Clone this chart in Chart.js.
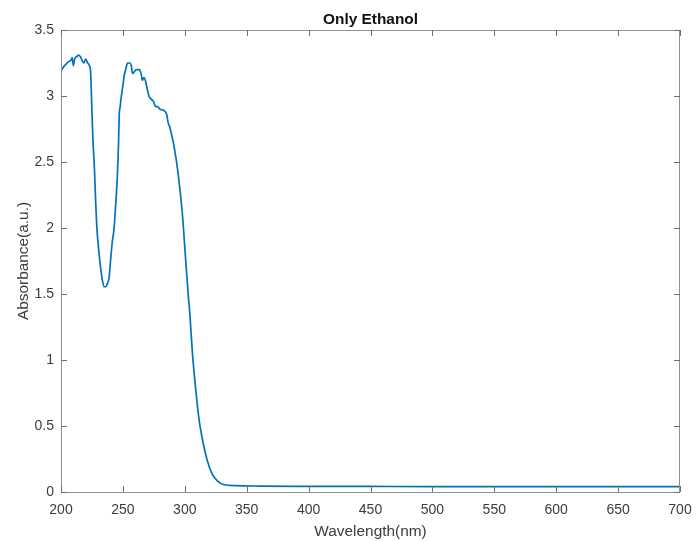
<!DOCTYPE html>
<html>
<head>
<meta charset="utf-8">
<script src="https://cdn.jsdelivr.net/npm/chart.js@4.4.1/dist/chart.umd.min.js"></script>
<style>
html,body{margin:0;padding:0;background:#fff;}
canvas{display:block;}
</style>
</head>
<body>
<canvas id="c" width="697" height="541"></canvas>
<script>
const chartTitle = "Only Ethanol";
const xTitle = "Wavelength(nm)";
const yTitle = "Absorbance(a.u.)";

const wavelengths = [200,202,204,206,208,209,210,211,213,214,215.5,217,218.5,220,221.5,223,224,224.8,225.8,227,228,229,230.7,232,233.5,235,236,237.5,238.8,240,241.5,242.8,244,245.5,246.5,247,247.8,248.5,250,251,252.5,253.8,255.5,256.8,257.8,259,261,263.3,264.9,265.7,267,268.4,269.7,271,272.4,274.6,276.5,278,280,283.2,285.4,286.5,288,289.5,291.3,294.5,298,300.7,302.9,304,306.1,308.8,311.5,314.7,318.2,322.2,326.3,331.7,341,360,400,450,500,550,600,650,700];
const absorbance = [3.19,3.22,3.24,3.26,3.27,3.29,3.23,3.28,3.30,3.31,3.30,3.27,3.25,3.28,3.25,3.23,3.17,2.94,2.67,2.45,2.20,2.00,1.81,1.70,1.60,1.555,1.555,1.58,1.62,1.75,1.90,1.99,2.15,2.39,2.65,2.85,2.92,2.98,3.08,3.15,3.21,3.25,3.25,3.23,3.17,3.18,3.20,3.20,3.16,3.12,3.14,3.11,3.05,3.00,2.98,2.96,2.92,2.92,2.90,2.89,2.86,2.80,2.76,2.70,2.62,2.42,2.11,1.76,1.48,1.36,1.06,0.78,0.55,0.376,0.237,0.136,0.085,0.055,0.048,0.045,0.043,0.042,0.041,0.041,0.040,0.040,0.040];

const xMin = 200, xMax = 700, xStep = 50;
const yMin = 0, yMax = 3.5, yStep = 0.5;

const points = wavelengths.map((w, i) => ({x: w, y: absorbance[i]}));

const boxPlugin = {
  id: 'boxTicks',
  afterDatasetsDraw(chart) {
    const {ctx, chartArea: a, scales} = chart;
    ctx.save();
    ctx.lineWidth = 1;
    ctx.strokeStyle = '#8f8f8f';
    ctx.strokeRect(Math.round(a.left) + 0.5, Math.round(a.top) + 0.5, Math.round(a.right - a.left) - 1, Math.round(a.bottom - a.top));
    ctx.strokeStyle = '#6f6f6f';
    const tl = 6;
    ctx.beginPath();
    scales.x.ticks.forEach(t => {
      const px = Math.round(scales.x.getPixelForValue(t.value)) + 0.5;
      ctx.moveTo(px, a.bottom); ctx.lineTo(px, a.bottom - tl);
      ctx.moveTo(px, a.top); ctx.lineTo(px, a.top + tl);
    });
    scales.y.ticks.forEach(t => {
      const py = Math.round(scales.y.getPixelForValue(t.value)) + 0.5;
      ctx.moveTo(a.left, py); ctx.lineTo(a.left + tl, py);
      ctx.moveTo(a.right, py); ctx.lineTo(a.right - tl, py);
    });
    ctx.stroke();
    ctx.restore();
  }
};

const fontFam = "'Liberation Sans', Arial, Helvetica, sans-serif";
const textColor = '#3c3c3c';

new Chart(document.getElementById('c'), {
  type: 'line',
  data: {
    datasets: [{
      data: points,
      borderColor: '#0072BD',
      borderWidth: 1.7,
      pointRadius: 0,
      fill: false,
      tension: 0,
      cubicInterpolationMode: 'monotone'
    }]
  },
  options: {
    responsive: false,
    animation: false,
    devicePixelRatio: 1,
    layout: {padding: {left: 0, right: 17, top: 0, bottom: 0}},
    plugins: {
      legend: {display: false},
      tooltip: {enabled: false},
      title: {
        display: true,
        text: chartTitle,
        fullSize: false,
        color: '#111',
        font: {family: fontFam, size: 15.4, weight: 'bold'},
        padding: {top: 11, bottom: 0.5}
      }
    },
    scales: {
      x: {
        type: 'linear',
        min: xMin, max: xMax,
        afterFit(s) { s.height = 49; s.paddingLeft = 0; s.paddingRight = 0; },
        grid: {display: false, drawTicks: false},
        border: {display: false},
        ticks: {stepSize: xStep, color: textColor, padding: 10, maxRotation: 0,
                font: {family: fontFam, size: 14}},
        title: {display: true, text: xTitle, color: textColor,
                font: {family: fontFam, size: 15.4}, padding: {top: 0, bottom: 0}}
      },
      y: {
        type: 'linear',
        min: yMin, max: yMax,
        afterFit(s) { s.width = 61; },
        grid: {display: false, drawTicks: false},
        border: {display: false},
        ticks: {stepSize: yStep, color: textColor, padding: 7,
                font: {family: fontFam, size: 14},
                callback: v => String(Math.round(v * 10) / 10)},
        title: {display: true, text: yTitle, color: textColor,
                font: {family: fontFam, size: 15.4}, padding: {top: 15, bottom: 0}}
      }
    }
  },
  plugins: [boxPlugin]
});
</script>
</body>
</html>
